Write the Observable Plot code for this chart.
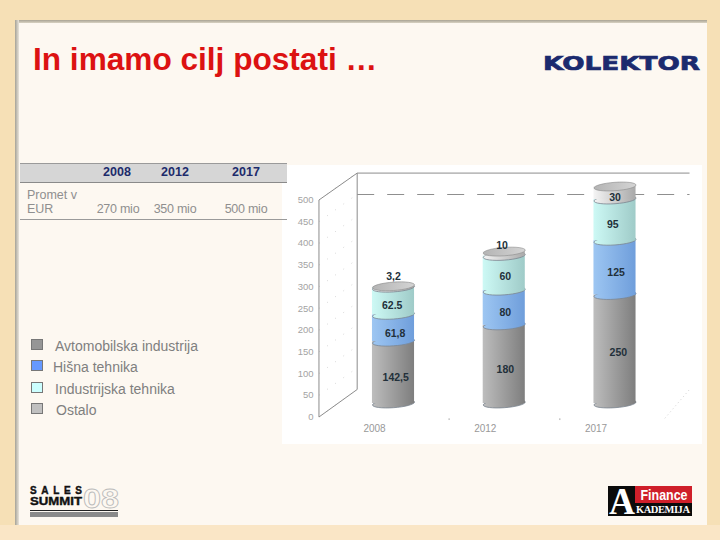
<!DOCTYPE html>
<html><head><meta charset="utf-8">
<script src="https://cdn.jsdelivr.net/npm/d3@7"></script>
<script src="https://cdn.jsdelivr.net/npm/@observablehq/plot@0.6"></script>
<style>
html,body{margin:0;padding:0;background:#f6e0b6;}
#slide{position:relative;width:720px;height:540px;overflow:hidden;font-family:"Liberation Sans",Arial,sans-serif;
 background:#f6e0b6;}
#slide div,#slide span{position:absolute;white-space:nowrap;}
#bottom{left:0;top:525px;width:720px;height:15px;background:#fae6c6;}
#panel{left:16px;top:22px;width:691px;height:503px;background:#fdf8f1;}
#shadowTop{left:15px;top:20px;width:692px;height:3px;background:linear-gradient(#a8a394,#d9d2c2);}
#shadowLeft{left:15px;top:20px;width:4px;height:505px;background:linear-gradient(90deg,#a5a297,#e9e4da);}
#white{left:282px;top:165px;width:420px;height:279px;background:#fff;}
#title{left:33px;top:41px;font-size:31.6px;font-weight:bold;color:#dc1212;line-height:36px;}
#hdr{left:20px;top:163px;width:267px;height:20px;background:#d6d6d6;border-top:1px solid #9a9a9a;border-bottom:1px solid #8a8a8a;box-sizing:border-box;}
#rowline{left:20px;top:219px;width:267px;height:1px;background:#9a9a9a;}
.yr{top:165px;font-weight:bold;font-size:12.5px;color:#1d2b6b;transform:translateX(-50%);}
.val{top:202px;font-size:12.5px;color:#8f8f8f;transform:translateX(-50%);letter-spacing:-.25px;}
.rh{left:27px;font-size:12.5px;color:#8f8f8f;}
.sw{left:31px;width:10px;height:9px;border:1px solid #777;}
.lg{font-size:14px;color:#7f7f7f;line-height:16px;}
#plot{left:0;top:0;}
</style></head><body>
<div id="slide">
 <div id="bottom"></div><div id="panel"></div><div id="shadowTop"></div><div id="shadowLeft"></div><div id="white"></div>
 <div id="title"></div>
 <div id="hdr"></div><div id="rowline"></div>
 <div id="plot"></div>
 <div id="logos"></div>
</div>
<script>
const years = ["2008", "2012", "2017"];
const yearIndex = [0, 1, 2];
const seriesNames = ["Avtomobilska industrija", "Hišna tehnika", "Industrijska tehnika", "Ostalo"];
const avtomobilska = [142.5, 180, 250];
const hisna = [61.8, 80, 125];
const industrijska = [62.5, 80, 95];
const ostalo = [3.2, 10, 30];
const allSeries = [avtomobilska, hisna, industrijska, ostalo];
const labelText = [["142,5","180","250"],["61,8","80","125"],["62.5","60","95"],["3,2","10","30"]];
const labelAt = [[60,77,118],[162,210,302],[226,293,413],[292,363,475]];
const labelX = [[0.02,1.01,2.03],[0.015,1.01,2.01],[-0.012,1.01,1.98],[0,0.98,2.0]];
const yTicks = [0,50,100,150,200,250,300,350,400,450,500];
const turnover = ["270 mio","350 mio","500 mio"];
const gradientStops = [["#bdbdbd","#7e7e7e"],["#9dc6f2","#6f9edb"],["#cdf9f5","#9fcbc8"],["#f4f4f4","#a9a9a9"]];
const swatchColors = ["#969696","#6699ff","#ccffff","#c0c0c0"];

const S = id => document.getElementById(id);
const add = (parent, cls, text, css) => { const e = document.createElement("div"); e.className = cls; e.textContent = text; e.style.cssText = css; parent.appendChild(e); return e; };
S("title").textContent = "In imamo cilj postati …";

// table
const tableX = [117, 175, 246];
years.forEach((y,i)=>{ add(S("slide"),"yr",y,`left:${tableX[i]}px`); add(S("slide"),"val",turnover[i],`left:${tableX[i]+(i==0?1:0)}px`); });
add(S("slide"),"rh","Promet v","top:188px");
add(S("slide"),"rh","EUR","top:202px");

// legend
const swY=[339,360,382,403], txX=[55,53,55,56], txY=[338,359,381,402];
seriesNames.forEach((n,i)=>{ add(S("slide"),"sw","",`top:${swY[i]}px;background:${swatchColors[i]}`); add(S("slide"),"lg",n,`left:${txX[i]}px;top:${txY[i]}px`); });

// elliptical cap symbol, slightly tilted like the 3-D original
const cap = { draw(ctx, size) {
  const rx = Math.sqrt(size/Math.PI), ry = rx*0.2, k = 0.5523, t = -0.07;
  const P = (x,y)=>[x, y + t*x];
  const C = (a,b,c)=>ctx.bezierCurveTo(...P(...a),...P(...b),...P(...c));
  ctx.moveTo(...P(rx,0));
  C([rx,k*ry],[k*rx,ry],[0,ry]); C([-k*rx,ry],[-rx,k*ry],[-rx,0]);
  C([-rx,-k*ry],[-k*rx,-ry],[0,-ry]); C([k*rx,-ry],[rx,-k*ry],[rx,0]);
  ctx.closePath();
}};

const barDy = -13.5, halfW = 0.19;
const stacks = [];
allSeries.forEach((vals,s)=>vals.forEach((v,i)=>{
  const base = d3.sum(allSeries.slice(0,s),a=>a[i]);
  stacks.push({s,i,y1:base,y2:base+v});
}));
const defs = () => {
  const d = d3.create("svg:defs");
  gradientStops.forEach((g,i)=>{
    const lg = d.append("linearGradient").attr("id","g"+i);
    lg.append("stop").attr("offset","0%").attr("stop-color",g[0]);
    lg.append("stop").attr("offset","100%").attr("stop-color",g[1]);
  });
  const lg = d.append("linearGradient").attr("id","gtop");
  lg.append("stop").attr("offset","0%").attr("stop-color","#b4b4b4");
  lg.append("stop").attr("offset","100%").attr("stop-color","#d4d4d4");
  return d.node();
};

// frame of the 3-D box in axis units
const frontX = -0.673, backX = -0.328, rightX = 2.673, backBottom = 63.4, backTop = 562;
const wall = yTicks.map(t=>({t}));
const axisColor = "#8c8c8c";
const cylinders = [0,1,2,3].flatMap(s=>{
  const d = stacks.filter(r=>r.s===s);
  return [
    Plot.dot(d,{x:"i",y:"y1",dy:barDy,r:21,symbol:cap,fill:`url(#g${s})`,stroke:"#7b8590",strokeWidth:0.8}),
    Plot.rect(d,{x1:r=>r.i-halfW,x2:r=>r.i+halfW,y1:"y1",y2:"y2",dy:barDy,fill:`url(#g${s})`})
  ];
});
const labels = stacks.map(r=>({text:labelText[r.s][r.i],x:labelX[r.s][r.i],y:labelAt[r.s][r.i],s:r.s}));

const chart = Plot.plot({
  width:720,height:540,margin:0,
  style:{background:"transparent",fontFamily:"'Liberation Sans',Arial,sans-serif"},
  x:{type:"linear",domain:[0,2],range:[393,614.5],axis:null},
  y:{type:"linear",domain:[0,500],range:[416.5,199.5],axis:null},
  marks:[
    defs,
    // faint wall grid
    Plot.link(wall,{x1:frontX,x2:backX,y1:"t",y2:d=>d.t+63.4,stroke:"#c4c4c4",strokeWidth:0.7,strokeDasharray:"1 9"}),
    Plot.link([{}],{x1:2.45,x2:rightX,y1:-3,y2:backBottom,stroke:"#c4c4c4",strokeWidth:0.8,strokeDasharray:"1 3"}),
    // box
    Plot.link([{}],{x1:frontX,x2:frontX,y1:0,y2:500,stroke:axisColor}),
    Plot.link([{}],{x1:frontX,x2:backX,y1:0,y2:backBottom,stroke:axisColor}),
    Plot.link([{}],{x1:frontX,x2:backX,y1:500,y2:backTop,stroke:axisColor}),
    Plot.link([{}],{x1:backX,x2:backX,y1:backBottom,y2:backTop,stroke:axisColor}),
    Plot.link([{}],{x1:backX,x2:rightX,y1:backTop,y2:backTop,stroke:axisColor}),
    // 500 target dashes
    Plot.link([{}],{x1:backX,x2:rightX,y1:500,y2:500,dy:-5.5,stroke:"#8f8f8f",strokeDasharray:"17 13"}),
    // ticks
    Plot.text(yTicks,{x:-0.722,y:d=>d,text:d=>String(d),textAnchor:"end",fill:"#a3a3a3",fontSize:9.5}),
    Plot.text(years,{x:yearIndex,y:-27,dx:-19,text:d=>d,fill:"#999",fontSize:10}),
    Plot.link([0.5,1.5],{x1:d=>d+0.002,x2:d=>d+0.002,y1:-7,y2:-3,stroke:"#aaa"}),
    // cylinders
    ...cylinders,
    Plot.dot(stacks.filter(r=>r.s===3),{x:"i",y:"y2",dy:barDy,r:21,symbol:cap,fill:"url(#gtop)",stroke:"#8a8a8a",strokeWidth:0.6}),
    // data labels
    Plot.text(labels,{x:"x",y:"y",dy:barDy,text:"text",fontWeight:"bold",fontSize:10.5,fill:"#22303a"})
  ]
});
S("plot").appendChild(chart);

// logos (real text)
const ns="http://www.w3.org/2000/svg";
S("logos").innerHTML = `
<svg xmlns="${ns}" width="720" height="540" style="position:absolute;left:0;top:0;font-family:'Liberation Sans',Arial,sans-serif">
  <text x="543" y="70" textLength="157" lengthAdjust="spacingAndGlyphs" font-family="'DejaVu Sans'" font-weight="bold" font-size="19.5" stroke="#1b2a6e" stroke-width="0.7" fill="#1b2a6e">KOLEKTOR</text>
  <text x="30" y="494" textLength="52" font-weight="bold" font-size="10" stroke="#111" stroke-width=".4" fill="#111">SALES</text>
  <text x="30" y="504.5" textLength="52" lengthAdjust="spacingAndGlyphs" font-weight="bold" font-size="11" stroke="#111" stroke-width=".4" fill="#111">SUMMIT</text>
  <text x="83" y="508" textLength="36" lengthAdjust="spacingAndGlyphs" font-weight="bold" font-size="27" fill="#fdf8f1" stroke="#bbb" stroke-width="0.8">08</text>
  <line x1="30" x2="118" y1="510.5" y2="510.5" stroke="#222" stroke-width="1.2"/>
  <rect x="30" y="512" width="88" height="5" fill="#8a8a8a"/>
  <rect x="608" y="486" width="84" height="30" fill="#0b0b0b"/>
  <rect x="635" y="486" width="57" height="17" fill="#cf1f2a"/>
  <text x="664" y="500" text-anchor="middle" font-weight="bold" font-size="14" textLength="47" lengthAdjust="spacingAndGlyphs" fill="#fff">Finance</text>
  <text x="609" y="514" font-family="'Liberation Serif'" font-weight="bold" font-size="37" textLength="26" lengthAdjust="spacingAndGlyphs" fill="#fff">A</text>
  <text x="636" y="513" font-family="'Liberation Serif'" font-weight="bold" font-size="10.5" textLength="54" fill="#fff">KADEMIJA</text>
</svg>`;
</script>
</body></html>
